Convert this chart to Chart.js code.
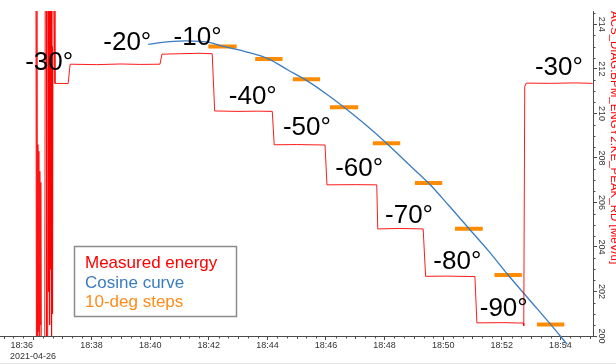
<!DOCTYPE html>
<html>
<head>
<meta charset="utf-8">
<script src="https://cdn.jsdelivr.net/npm/chart.js@4"></script>
<style>
html,body{margin:0;padding:0;background:#fff;}
#wrap{width:616px;height:364px;position:relative;}
</style>
</head>
<body>
<div id="wrap"><canvas id="c" width="616" height="364"></canvas></div>
<script>
// ---------- data ----------
const measuredTimes = [
  "18:36:06","18:36:07","18:36:08","18:36:09","18:36:10","18:36:11","18:36:12","18:36:13",
  "18:36:14","18:36:15","18:36:16","18:36:17","18:36:24","18:36:25","18:36:27","18:36:28",
  "18:36:30","18:36:31","18:36:32","18:36:33","18:36:34","18:36:35","18:36:36","18:36:37",
  "18:36:38","18:36:39","18:36:40","18:36:41","18:36:43","18:36:45",
  "18:37:12","18:37:16","18:38:10","18:39:00","18:39:40","18:40:20",
  "18:40:24","18:41:00","18:41:40","18:42:07",
  "18:42:12","18:43:00","18:43:40","18:44:10",
  "18:44:14","18:45:00","18:45:58",
  "18:46:02","18:47:00","18:47:44",
  "18:47:46","18:48:30","18:49:19",
  "18:49:24","18:50:10","18:51:05",
  "18:51:09","18:52:00","18:52:44",
  "18:52:45","18:52:47","18:52:50","18:53:40","18:54:30","18:55:06"
];
const measuredValues = [
  216.0,199.0,216.0,199.5,208.6,200.2,208.3,199.8,
  207.4,200.5,206.9,199.5,199.0,216.0,216.0,199.0,
  199.0,216.0,202.0,216.0,200.5,216.0,203.0,215.5,
  199.5,213.0,201.0,216.0,215.0,211.35,
  211.34,212.21,212.19,212.22,212.20,212.21,
  212.66,212.68,212.70,212.68,
  210.11,210.09,210.10,210.09,
  208.59,208.60,208.58,
  206.79,206.80,206.79,
  204.81,204.83,204.81,
  202.68,202.69,202.67,
  200.59,200.60,200.58,
  200.46,211.20,211.36,211.35,211.37,211.35
];

const cosineTimes = [
  "18:39:56","18:40:20","18:40:47","18:41:13","18:41:42","18:42:03","18:42:28","18:43:14",
  "18:44:03","18:44:42","18:45:15","18:45:58","18:46:37","18:47:20","18:48:04","18:48:46",
  "18:49:30","18:50:12","18:50:53","18:51:34","18:52:13","18:52:56","18:53:40","18:54:14"
];
const cosineValues = [
  213.10,213.18,213.24,213.26,213.24,213.18,213.02,212.78,
  212.44,211.95,211.55,210.92,210.28,209.51,208.66,207.78,
  206.87,205.85,204.82,203.79,202.74,201.64,200.52,199.62
];

const stepStarts = ["18:41:59","18:43:35","18:44:52","18:46:08","18:47:36","18:49:02","18:50:24","18:51:45","18:53:12"];
const stepEnds   = ["18:42:57","18:44:31","18:45:48","18:47:06","18:48:32","18:49:58","18:51:21","18:52:41","18:54:08"];
const stepValues = [213.00,212.44,211.53,210.28,208.66,206.87,204.82,202.74,200.52];

const angleLabels      = ["-30°","-20°","-10°","-40°","-50°","-60°","-70°","-80°","-90°","-30°"];
const angleLabelTimes  = ["18:36:33","18:39:13","18:41:37","18:43:30","18:45:21","18:47:08","18:48:50","18:50:29","18:52:04","18:53:57"];
const angleLabelValues = [212.29,213.16,213.41,210.76,209.37,207.51,205.40,203.32,201.23,212.06];

const xTickLabels = ["18:36","18:38","18:40","18:42","18:44","18:46","18:48","18:50","18:52","18:54"];
const dateLabel = "2021-04-26";
const xRange = ["18:34:52.4","18:55:06.8"];
const yTicks = [200,202,204,206,208,210,212,214];
const yRange = [200, 214.6];
const yTitle = "ACS_DIAG:BPM_ENGY2:KE_PEAK_RD [MeV/u]";
const legendLabels = ["Measured energy","Cosine curve","10-deg steps"];

// ---------- helpers ----------
function toSec(s){
  const p = s.split(':').map(Number);
  return p[0]*3600 + p[1]*60 + (p[2] || 0);
}
function fmt(v){
  const h = Math.floor(v/3600), m = Math.round((v - h*3600)/60);
  return String(h).padStart(2,'0') + ':' + String(m).padStart(2,'0');
}

const RED = 'rgba(255,0,0,0.9)';
const BLUE = '#3a7cc0';
const ORANGE = '#ff8c00';
const AXIS = '#4a4a4a';
const FONT = '"Liberation Sans", Arial, sans-serif';

const measuredData = measuredTimes.map((t,i)=>({x: toSec(t), y: measuredValues[i]}));
const cosineData = cosineTimes.map((t,i)=>({x: toSec(t), y: cosineValues[i]}));
const stepData = [];
stepStarts.forEach((s,i)=>{
  stepData.push({x: toSec(s), y: stepValues[i]});
  stepData.push({x: toSec(stepEnds[i]), y: stepValues[i]});
  stepData.push({x: toSec(stepEnds[i]) + 1, y: null});
});
const xTickValues = xTickLabels.map(toSec);

Chart.defaults.font.family = FONT;

const overlay = {
  id: 'overlay',
  afterDatasetsDraw(chart){
    const {ctx} = chart;
    const x = chart.scales.x, y = chart.scales.y;
    ctx.save();
    // angle annotations
    ctx.fillStyle = '#000';
    ctx.font = '26px ' + FONT;
    ctx.textAlign = 'center';
    ctx.textBaseline = 'middle';
    angleLabels.forEach((t,i)=>{
      ctx.fillText(t, x.getPixelForValue(toSec(angleLabelTimes[i])), y.getPixelForValue(angleLabelValues[i]));
    });
    // legend box
    const bx = 74.5, by = 246.5, bw = 162, bh = 70;
    ctx.fillStyle = '#fff';
    ctx.fillRect(bx, by, bw, bh);
    ctx.strokeStyle = '#8c8c8c';
    ctx.lineWidth = 1.5;
    ctx.strokeRect(bx, by, bw, bh);
    ctx.font = '17px ' + FONT;
    ctx.textAlign = 'left';
    const cols = [ '#ff0000', BLUE, '#ff8c1a' ];
    legendLabels.forEach((t,i)=>{
      ctx.fillStyle = cols[i];
      ctx.fillText(t, 85, 263.5 + i*19.5);
    });
    ctx.restore();
  },
  afterDraw(chart){
    const {ctx} = chart;
    const x = chart.scales.x, y = chart.scales.y;
    ctx.save();
    ctx.strokeStyle = AXIS;
    ctx.lineWidth = 1;
    ctx.beginPath();
    const b = y.bottom;
    for (let t = Math.ceil(x.min/20)*20; t <= x.max; t += 20){
      if (t % 120 === 0) continue;
      const px = Math.round(x.getPixelForValue(t)) + 0.5;
      const len = (t % 60 === 0) ? 3 : 2.5;
      ctx.moveTo(px, b); ctx.lineTo(px, b + len);
    }
    const l = x.right;
    for (let v = yRange[0]; v <= yRange[1] + 1e-9; v += 0.5){
      if (Math.abs(v % 2) < 1e-9) continue;
      const py = Math.round(y.getPixelForValue(v)) + 0.5;
      ctx.moveTo(l, py); ctx.lineTo(l + 2.5, py);
    }
    ctx.stroke();
    // faint frame line at the bottom
    ctx.strokeStyle = '#e6e6e6';
    ctx.beginPath();
    ctx.moveTo(0, 363.5); ctx.lineTo(616, 363.5);
    ctx.stroke();
    ctx.restore();
  }
};

new Chart(document.getElementById('c'), {
  type: 'line',
  data: {
    datasets: [
      { label: legendLabels[0], data: measuredData, borderColor: RED, borderWidth: 1, pointRadius: 0, tension: 0 },
      { label: legendLabels[1], data: cosineData, borderColor: BLUE, borderWidth: 1.3, pointRadius: 0, tension: 0.4,
        cubicInterpolationMode: 'monotone', clip: {left: 0, top: 0, right: 0, bottom: false} },
      { label: legendLabels[2], data: stepData, borderColor: ORANGE, borderWidth: 4, pointRadius: 0, spanGaps: false, borderCapStyle: 'butt' }
    ]
  },
  options: {
    responsive: false,
    animation: false,
    devicePixelRatio: 1,
    layout: { padding: { top: 11, left: 0, right: 0, bottom: 0 } },
    plugins: { legend: { display: false }, tooltip: { enabled: false } },
    scales: {
      x: {
        type: 'linear',
        position: 'bottom',
        min: toSec(xRange[0]),
        max: toSec(xRange[1]),
        afterBuildTicks: s => { s.ticks = xTickValues.map(v => ({value: v})); },
        afterFit: s => { s.height = 28; },
        ticks: {
          autoSkip: false, minRotation: 0, maxRotation: 0, padding: 0,
          color: '#333', font: { size: 9, lineHeight: 1.2 },
          callback: (v, i) => i === 0 ? [fmt(v) + '         ', dateLabel] : fmt(v)
        },
        grid: { drawOnChartArea: false, drawTicks: true, tickLength: 4, color: AXIS, tickColor: AXIS },
        border: { display: true, color: AXIS, width: 1 }
      },
      y: {
        type: 'linear',
        position: 'right',
        min: yRange[0],
        max: yRange[1],
        afterBuildTicks: s => { s.ticks = yTicks.map(v => ({value: v})); },
        afterFit: s => { s.width = 23; },
        ticks: {
          minRotation: -90, maxRotation: -90, crossAlign: 'center', padding: -3,
          color: '#333', font: { size: 9 },
          callback: v => String(v)
        },
        grid: { drawOnChartArea: false, drawTicks: true, tickLength: 4, color: AXIS, tickColor: AXIS },
        border: { display: true, color: AXIS, width: 1 },
        title: {
          display: true, text: yTitle, color: '#ff0000', align: 'end',
          font: { size: 11.5, lineHeight: 1 }, padding: { top: -3.75, bottom: 0 }
        }
      }
    }
  },
  plugins: [overlay]
});
</script>
</body>
</html>
